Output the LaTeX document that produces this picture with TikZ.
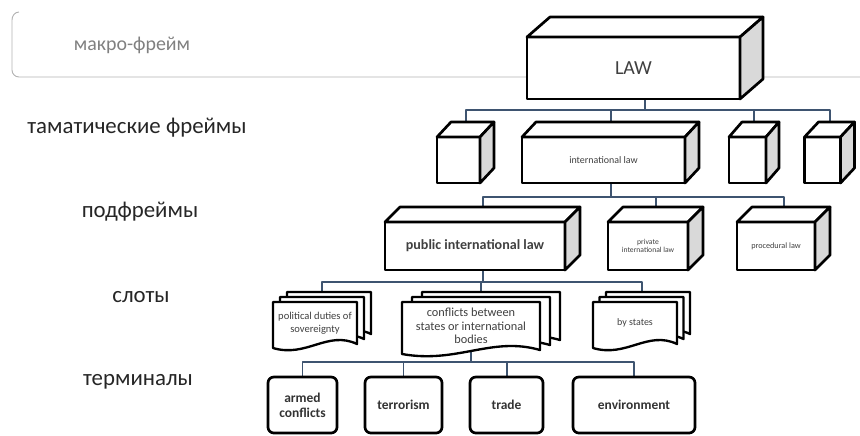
\documentclass[tikz,border=0pt]{standalone}
\usepackage{fontspec}
\setmainfont{Carlito}
\usetikzlibrary{backgrounds}
\definecolor{busblue}{RGB}{62,84,112}
\tikzset{
  every path/.style={line join=round},
  boxsize/.style 2 args={minimum width=#1*0.03cm, minimum height=#2*0.03cm},
  cubefront/.style={draw, line width=2.3pt, fill=white, inner sep=1pt, outer sep=0pt, align=center, text=black!75},
  cubetop/.style={draw, line width=2.3pt, fill=white},
  cubeside/.style={draw, line width=2.3pt, fill=black!15},
  slotpage/.style={draw, line width=2pt, fill=white},
  slottext/.style={align=center, inner sep=1pt, text=black!75, font=\fontsize{#1}{11.5}\selectfont},
  terminal/.style={draw, line width=2.3pt, rounded corners=5pt, fill=white, align=center, inner sep=1pt, outer sep=0pt, text=black!80, font=\fontsize{11.5}{12.5}\selectfont\bfseries},
  levellabel/.style={font=\fontsize{19.5}{22}\selectfont, text=black!85},
  bus/.style={draw=busblue, line width=1.7pt},
}

% top and side faces of a box, plus the points where the connectors meet it
\newcommand\cubedepth[3]{%
  \filldraw[cubetop] (#1.north west) -- ([shift={(#2,-#3)}]#1.north west) -- ([shift={(#2,-#3)}]#1.north east) -- (#1.north east) -- cycle;
  \filldraw[cubeside] (#1.north east) -- ([shift={(#2,-#3)}]#1.north east) -- ([shift={(#2,-#3)}]#1.south east) -- (#1.south east) -- cycle;
  \coordinate (#1-top) at ([shift={(#2/2,-#3)}]#1.north);
  \coordinate (#1-bot) at ([shift={(#2/2,0)}]#1.south);
}

% a stack of three pages with a wavy lower edge
\newcommand\slotstack[8]{%
  \foreach \k in {2,1,0}{
    \filldraw[slotpage, shift={(\k*#6,-\k*5)}] (#2,#3) -- (#4,#3) -- (#4,{#5-4})
      .. controls ({#4-0.35*(#4-#2)},{#5-18}) and ({#2+0.4*(#4-#2)},{#5+10}) .. (#2,#5) -- cycle;
  }
  \node[slottext={#7}] (#1) at ({(#2+#4)/2},{(#3+#5)/2-2}) {#8};
  \coordinate (#1-top) at ({(#2+#4)/2+#6},{#3-10});
  \coordinate (#1-bot) at ({(#2+#4)/2},{#5-6});
}

\begin{document}
\begin{tikzpicture}[x=0.03cm, y=-0.03cm]
    \useasboundingbox (0,0) rectangle (860,435);

    % macro frame
    \draw[gray!60, line width=0.8pt] (19,12) to[out=180,in=90] (12,20) -- (12,70) to[out=-90,in=180] (19,77) -- (860,77);
    \node[font=\fontsize{17}{19}\selectfont, text=gray] (lmacro) at (132,45) {макро-фрейм};

    % level names
    \node[levellabel] (ltheme) at (137,128) {тамaтические фреймы};
    \node[levellabel] (lsub) at (140,212) {подфреймы};
    \node[levellabel] (lslot) at (141,297) {слоты};
    \node[levellabel] (lterm) at (138,382) {терминалы};

    % macro-frame
    \node[cubefront, boxsize={213}{62}, font=\fontsize{17}{19}\selectfont] (law) at (633.5,68) {LAW};
    \cubedepth{law}{23}{20}

    % thematic frames
    \node[cubefront, boxsize={43}{46}] (th1) at (458.5,160) {};
    \cubedepth{th1}{14}{15}
    \node[cubefront, boxsize={163}{46}, font=\fontsize{8.5}{9.5}\selectfont] (intl) at (603.5,160) {international law};
    \cubedepth{intl}{14}{15}
    \node[cubefront, boxsize={37}{46}] (th3) at (747.5,160) {};
    \cubedepth{th3}{13}{15}
    \node[cubefront, boxsize={36}{46}] (th4) at (822.5,160) {};
    \cubedepth{th4}{14}{15}

    % subframes
    \node[cubefront, boxsize={180}{48}, font=\fontsize{12}{13}\selectfont\bfseries] (pub) at (475,246) {public international law};
    \cubedepth{pub}{15}{15}
    \node[cubefront, boxsize={80}{48}, font=\fontsize{6.5}{7}\selectfont] (priv) at (648,246) {private\\international law};
    \cubedepth{priv}{15}{15}
    \node[cubefront, boxsize={78}{48}, font=\fontsize{7}{8}\selectfont] (proc) at (776,246) {procedural law};
    \cubedepth{proc}{15}{15}

    % slots
    \slotstack{slot1}{273}{302}{357}{348}{7}{9}{political duties of\\sovereignty}
    \slotstack{slot2}{402}{302}{540}{354}{10}{10.5}{conflicts between\\states or international\\bodies}
    \slotstack{slot3}{593}{302}{677}{348}{6.5}{8.5}{by states}

    % terminals
    \node[terminal, boxsize={69}{56}] (term1) at (302.5,405) {armed\\conflicts};
    \node[terminal, boxsize={77}{56}] (term2) at (403.5,405) {terrorism};
    \node[terminal, boxsize={73}{56}] (term3) at (506.5,405) {trade};
    \node[terminal, boxsize={122}{56}] (term4) at (634,405) {environment};

    \begin{scope}[on background layer]
      \draw[bus] (law-bot) -- ++(0,11) -| (th1-top);
      \draw[bus] (law-bot) -- ++(0,11) -| (intl-top);
      \draw[bus] (law-bot) -- ++(0,11) -| (th3-top);
      \draw[bus] (law-bot) -- ++(0,11) -| (th4-top);

      \draw[bus] (intl-bot) -- ++(0,14) -| (pub-top);
      \draw[bus] (intl-bot) -- ++(0,14) -| (priv-top);
      \draw[bus] (intl-bot) -- ++(0,14) -| (proc-top);

      \draw[bus] (pub-bot) -- ++(0,12) -| (slot1-top);
      \draw[bus] (pub-bot) -- ++(0,12) -| (slot2-top);
      \draw[bus] (pub-bot) -- ++(0,12) -| (slot3-top);

      \draw[bus] (slot2-bot) -- ++(0,14) -| (term1.north);
      \draw[bus] (slot2-bot) -- ++(0,14) -| (term2.north);
      \draw[bus] (slot2-bot) -- ++(0,14) -| (term3.north);
      \draw[bus] (slot2-bot) -- ++(0,14) -| (term4.north);
    \end{scope}
\end{tikzpicture}
\end{document}
